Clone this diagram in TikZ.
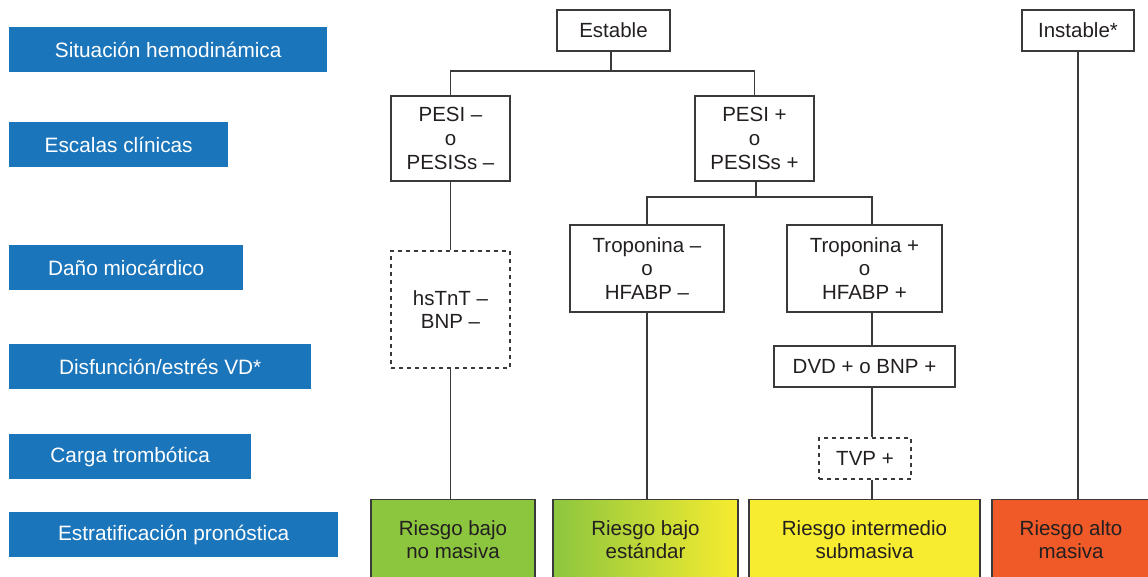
\documentclass[tikz,border=0pt]{standalone}
\usepackage{fontspec}
\setmainfont{Liberation Sans}
\usetikzlibrary{positioning}
\definecolor{labelblue}{HTML}{1B75BB}
\definecolor{txtgray}{HTML}{231F20}
\definecolor{linegray}{HTML}{3A3A3A}
\definecolor{riskgreen}{HTML}{8CC63F}
\definecolor{riskyellow}{HTML}{F7EC2F}
\definecolor{riskorange}{HTML}{EF5A28}
\tikzset{main node/.style={rectangle,draw=linegray,line width=1.1pt,inner sep=0pt,align=center,text=txtgray,font=\fontsize{20.5}{23.7}\selectfont},
dash node/.style={main node,dash pattern=on 4pt off 4pt},
risk node/.style={main node,minimum height=80pt,anchor=north},
head node/.style={rectangle,fill=labelblue,text=white,inner sep=0pt,minimum height=45pt,anchor=west,font=\fontsize{20.8}{24}\selectfont},}

\begin{document}
\begin{tikzpicture}[x=1pt,y=-1pt]
       \useasboundingbox (0,0) rectangle (1148,576);
       % row labels
       \node[head node,minimum width=318pt] (h1) at (9,49.5) {Situación hemodinámica};
       \node[head node,minimum width=219pt] (h2) at (9,144.5) {Escalas clínicas};
       \node[head node,minimum width=234pt] (h3) at (9,267.5) {Daño miocárdico};
       \node[head node,minimum width=302pt] (h4) at (9,366.5) {Disfunción/estrés VD*};
       \node[head node,minimum width=242pt] (h5) at (9,456.5) {Carga trombótica};
       \node[head node,minimum width=329pt] (h6) at (9,534.5) {Estratificación pronóstica};

       \node[main node,minimum width=113pt,minimum height=41pt] (est) at (613.5,30.5) {Estable};
       \node[main node,minimum width=112pt,minimum height=41pt] (inst) at (1078,30.5) {Instable*};

       \node[main node,minimum width=119pt,minimum height=85pt] (pesim) at (450.5,138.5) {PESI –\\o\\PESISs –};
       \node[main node,minimum width=119pt,minimum height=85pt] (pesip) at (754.5,138.5) {PESI +\\o\\PESISs +};

       \node[dash node,minimum width=119pt,minimum height=117pt] (hstnt) at (450.5,309.5) {hsTnT –\\BNP –};
       \node[main node,minimum width=154pt,minimum height=87pt] (trom) at (647,268.5) {Troponina –\\o\\HFABP –};
       \node[main node,minimum width=155pt,minimum height=87pt] (tropp) at (864.5,268.5) {Troponina +\\o\\HFABP +};
       \node[main node,minimum width=181pt,minimum height=41pt] (dvd) at (864.5,366.5) {DVD + o BNP +};
       \node[dash node,minimum width=92pt,minimum height=41pt] (tvp) at (865,458.5) {TVP +};

       % risk classes
       \node[risk node,minimum width=164pt,fill=riskgreen] (r1) at (453,499) {Riesgo bajo\\no masiva};
       \node[risk node,minimum width=185pt,left color=riskgreen,right color=riskyellow] (r2) at (645.5,499) {Riesgo bajo\\estándar};
       \node[risk node,minimum width=231pt,fill=riskyellow] (r3) at (864.5,499) {Riesgo intermedio\\submasiva};
       \node[risk node,minimum width=158pt,fill=riskorange] (r4) at (1071,499) {Riesgo alto\\masiva};

       \coordinate (split1) at (611,71);
       \coordinate (split2) at (756,197);
       \coordinate (col3) at (872,0);

       \path[draw,line width=1.1pt,linegray]
       (est.south -| split1) -- (split1)
       (pesim.north) |- (split1) -| (pesip.north)
       (pesim.south) -- (hstnt.north)
       (hstnt.south) -- (hstnt.south |- r1.north)
       (pesip.south -| split2) -- (split2)
       (trom.north) |- (split2) -| (tropp.north -| col3)
       (trom.south) -- (trom.south |- r2.north)
       (tropp.south -| col3) -- (dvd.north -| col3)
       (dvd.south -| col3) -- (tvp.north -| col3)
       (tvp.south -| col3) -- (r3.north -| col3)
       (inst.south) -- (inst.south |- r4.north);
\end{tikzpicture}
\end{document}
